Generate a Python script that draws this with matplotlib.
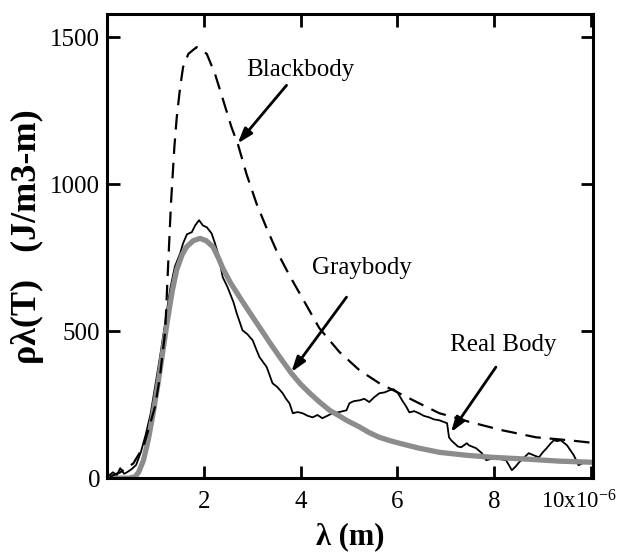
import matplotlib
matplotlib.use("Agg")
import matplotlib.pyplot as plt
import matplotlib.transforms as mtransforms

plt.rcParams['font.family'] = ['Liberation Serif', 'DejaVu Serif']
plt.rcParams['mathtext.default'] = 'regular'

# wavelength in micrometres (axis is x10^-6 m), energy density in J/m3-m
lam_bb = [0.05, 0.27, 0.54, 0.75, 0.89, 0.99, 1.09, 1.20, 1.26, 1.32, 1.39, 1.44,
          1.51, 1.57, 1.68, 1.85, 2.06, 2.23, 2.40, 2.57, 2.71, 2.88, 3.09, 3.30,
          3.50, 3.77, 4.04, 4.39, 4.80, 5.22, 5.63, 6.04, 6.45, 6.87, 7.22, 7.48,
          8.17, 8.87, 9.55, 10.05]
rho_bb = [5, 20, 50, 107, 186, 243, 345, 500, 720, 935, 1127, 1229,
          1331, 1399, 1444, 1467, 1444, 1376, 1286, 1195, 1133, 1036, 934, 850,
          775, 690, 612, 510, 430, 367, 323, 289, 255, 221, 205, 192,
          163, 139, 129, 120]

lam_gray = [0.0, 0.45, 0.58, 0.65, 0.75, 0.85, 0.95, 1.05, 1.15, 1.25, 1.35, 1.44,
            1.55, 1.64, 1.78, 1.92, 2.05, 2.19, 2.30, 2.39, 2.55, 2.74, 2.95, 3.15,
            3.36, 3.57, 3.81, 4.00, 4.19, 4.40, 4.60, 4.80, 4.95, 5.22, 5.42, 5.63,
            5.84, 6.04, 6.45, 6.87, 7.42, 7.96, 8.66, 9.34, 10.05]
rho_gray = [0, 0, 5, 20, 60, 130, 220, 320, 430, 540, 640, 710,
            760, 787, 808, 816, 808, 787, 750, 715, 665, 616, 563, 514,
            462, 412, 357, 320, 289, 258, 231, 212, 197, 174, 155, 139,
            128, 119, 102, 88, 78, 71, 65, 58, 54]

lam_real = [0.00, 0.12, 0.20, 0.27, 0.35, 0.41, 0.50, 0.60, 0.70, 0.80, 0.90, 1.00,
            1.10, 1.20, 1.30, 1.40, 1.51, 1.57, 1.65, 1.75, 1.82, 1.90, 1.98, 2.06,
            2.16, 2.23, 2.30, 2.39, 2.49, 2.54, 2.61, 2.68, 2.80, 2.90, 3.01, 3.08,
            3.15, 3.30, 3.42, 3.52, 3.63, 3.70, 3.77, 3.84, 3.94, 4.04, 4.15, 4.25,
            4.35, 4.45, 4.55, 4.66, 4.80, 4.95, 5.01, 5.10, 5.22, 5.32, 5.42, 5.52,
            5.63, 5.74, 5.84, 5.92, 6.00, 6.10, 6.18, 6.25, 6.35, 6.45, 6.55, 6.66,
            6.76, 6.87, 6.95, 7.03, 7.07, 7.12, 7.18, 7.25, 7.32, 7.44, 7.48, 7.63,
            7.75, 7.84, 7.95, 8.04, 8.15, 8.25, 8.37, 8.45, 8.52, 8.62, 8.72, 8.82,
            8.93, 9.01, 9.09, 9.17, 9.24, 9.31, 9.38, 9.45, 9.51, 9.58, 9.65, 9.75,
            9.82, 9.90, 10.05]
rho_real = [5, 20, 10, 34, 15, 20, 30, 45, 90, 150, 220, 320,
            420, 530, 640, 720, 765, 799, 830, 837, 860, 878, 860, 854,
            833, 799, 760, 684, 650, 629, 600, 561, 503, 490, 469, 440,
            412, 378, 323, 310, 289, 270, 255, 221, 225, 221, 212, 207,
            215, 204, 212, 221, 225, 231, 255, 262, 265, 270, 259, 275,
            289, 292, 299, 303, 293, 265, 245, 224, 228, 221, 212, 207,
            200, 197, 192, 187, 139, 128, 119, 108, 105, 119, 112, 102,
            85, 61, 66, 68, 64, 61, 27, 40, 54, 70, 85, 78,
            71, 88, 102, 118, 129, 126, 129, 120, 112, 95, 78, 44,
            50, 54, 50]

fig = plt.figure(figsize=(6.23, 5.56), dpi=100)
ax = fig.add_axes([0.172, 0.140, 0.780, 0.835])

ax.plot(lam_real, rho_real, color='black', lw=1.3)
ax.plot(lam_gray, rho_gray, color='#8c8c8c', lw=3.8, solid_capstyle='butt')
ax.plot(lam_bb, rho_bb, color='black', lw=1.6, dashes=(7, 4))

ax.set_xlim(0, 10.05)
ax.set_ylim(0, 1580)
ax.set_xticks([2, 4, 6, 8, 10])
ax.set_xticklabels(['2', '4', '6', '8', '10x10$^{-6}$'])
ax.set_yticks([0, 500, 1000, 1500])
ax.tick_params(direction='in', length=9, width=2, top=True, right=True,
               labelsize=18)
ax.tick_params(axis='x', pad=9)
ax.tick_params(axis='y', pad=5)
last = ax.get_xticklabels()[-1]
last.set_fontsize(16.5)
last.set_transform(last.get_transform() +
                   mtransforms.ScaledTranslation(-0.12, 0, fig.dpi_scale_trans))
for s in ax.spines.values():
    s.set_linewidth(2.2)

ax.set_xlabel('λ (m)', fontsize=22, fontweight='bold')
ax.xaxis.set_label_coords(0.5, -0.095)
ax.set_ylabel('ρλ(T)   (J/m3-m)', fontsize=26, fontweight='bold')
ax.yaxis.set_label_coords(-0.13, 0.52)

arrow = dict(arrowstyle='-|>,head_length=0.9,head_width=0.3', lw=2,
             color='black', shrinkA=0, shrinkB=0)
ax.text(4.0, 1388, 'Blackbody', fontsize=18, ha='center', va='center')
ax.annotate('', xy=(2.70, 1139), xytext=(3.71, 1337), arrowprops=arrow)
ax.text(5.26, 714, 'Graybody', fontsize=18, ha='center', va='center')
ax.annotate('', xy=(3.81, 361), xytext=(4.95, 616), arrowprops=arrow)
ax.text(8.19, 452, 'Real Body', fontsize=18, ha='center', va='center')
ax.annotate('', xy=(7.11, 156), xytext=(8.04, 378), arrowprops=arrow)

fig.savefig('out.png', dpi=100)
